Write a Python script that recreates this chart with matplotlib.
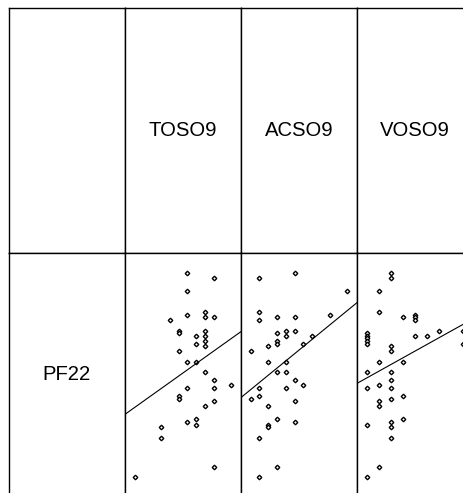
import matplotlib

matplotlib.use("Agg")
import matplotlib.pyplot as plt  # noqa: E402
import numpy as np  # noqa: E402

W, H = 464, 493          # output size in px (dpi 100)
LEFT, TOP = 9, 7.5       # grid origin, px
CW, CH = 116, 245        # cell size, px (grid runs past the right/bottom edge)
FONT = ["Liberation Sans", "DejaVu Sans"]

row_label = "PF22"
col_labels = ["TOSO9", "ACSO9", "VOSO9"]

toso9 = [6, 9, 6, 6, 4, 8, 8, 9, 5, 5, 7, 7, 8, 8, 8, 8, 5, 6, 7, 8,
         9, 11, 6, 9, 5, 5, 9, 8, 6, 7, 7, 3, 3, 9, 0]
pf22_toso9 = [78, 76, 71, 62, 60, 63, 61, 61, 56, 55, 54, 51, 56, 54, 52, 50, 48, 44, 44, 40,
              37, 35, 34, 34, 31, 30, 29, 27, 21, 22, 20, 19, 15, 4, 0]

acso9 = [1, 5, 11, 1, 1, 3, 5, 9, 3, 4, 4, 5, 3, 3, 7, 6, 2, 0, 2, 4,
         3, 4, 5, 6, 1, 4, 0, 1, 5, 2, 3, 2, 2, 5, 1, 3, 1]
pf22_acso9 = [76, 78, 71, 63, 60, 61, 61, 62, 55, 56, 54, 56, 52, 51, 54, 51, 50, 48, 44, 44,
              40, 40, 37, 35, 34, 34, 30, 31, 29, 27, 22, 20, 19, 21, 15, 4, 0]

voso9 = [2, 2, 1, 1, 3, 4, 4, 4, 0, 0, 0, 0, 0, 4, 5, 6, 8, 8, 2, 2,
         1, 3, 0, 2, 2, 0, 1, 2, 3, 2, 1, 1, 0, 2, 2, 3, 2, 1, 0]
pf22_voso9 = [78, 76, 71, 63, 61, 62, 61, 60, 55, 54, 53, 52, 51, 54, 54, 56, 56, 51, 50, 48,
              44, 44, 40, 40, 37, 34, 35, 34, 31, 30, 29, 27, 20, 21, 19, 22, 15, 4, 0]

panels = [(toso9, pf22_toso9), (acso9, pf22_acso9), (voso9, pf22_voso9)]


def cell(fig, col, row):
    x0, y0 = LEFT + col * CW, TOP + row * CH
    ax = fig.add_axes([x0 / W, (H - y0 - CH) / H, CW / W, CH / H])
    ax.set_xticks([])
    ax.set_yticks([])
    for sp in ax.spines.values():
        sp.set_color("black")
        sp.set_linewidth(1.0)
    return ax


def padded(v):
    lo, hi = min(v), max(v)
    pad = 0.1 * (hi - lo)
    return lo - pad, hi + pad


fig = plt.figure(figsize=(W / 100, H / 100), dpi=100, facecolor="white")

cell(fig, 0, 0)
for i, name in enumerate(col_labels):
    ax = cell(fig, i + 1, 0)
    ax.text(0.5, 0.5, name, transform=ax.transAxes, ha="center", va="center",
            fontsize=14.6, family=FONT)

ax = cell(fig, 0, 1)
ax.text(0.5, 0.5, row_label, transform=ax.transAxes, ha="center", va="center",
        fontsize=14.6, family=FONT)

for i, (x, y) in enumerate(panels):
    ax = cell(fig, i + 1, 1)
    ax.set_xlim(*padded(x))
    ax.set_ylim(*padded(y))
    ax.plot(x, y, linestyle="none", marker="D", ms=2.3, mfc="white",
            mec="black", mew=1.0)
    slope, icpt = np.polyfit(x, y, 1)
    xs = np.array(ax.get_xlim())
    ax.plot(xs, icpt + slope * xs, color="black", lw=0.8)

fig.savefig("out.png", dpi=100)
